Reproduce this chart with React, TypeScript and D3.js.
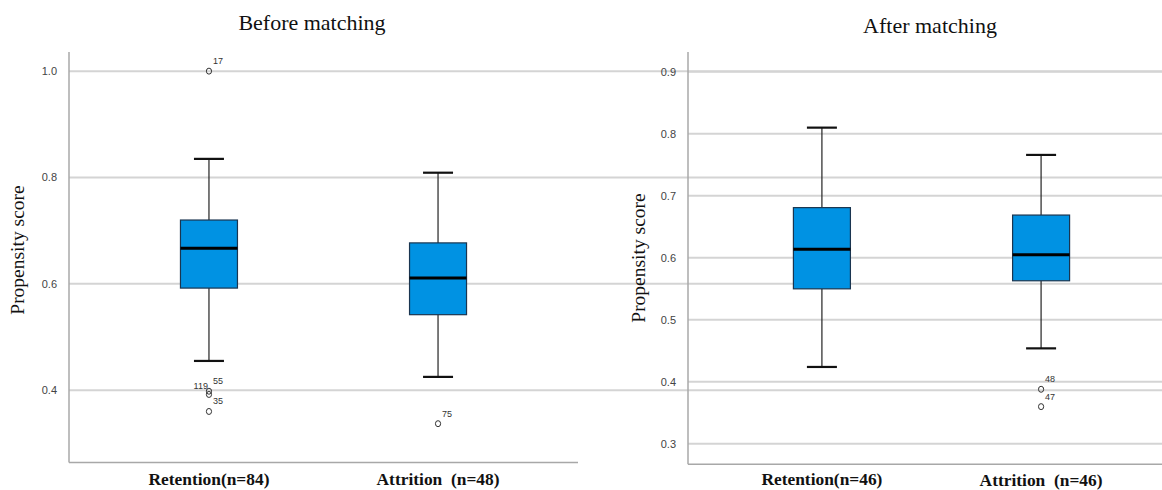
import React from "react";
import * as d3 from "d3";

// ---- Data ----
const beforeTitle = "Before matching";
const afterTitle = "After matching";
const beforeCategories = ["Retention(n=84)", "Attrition  (n=48)"];
const afterCategories = ["Retention(n=46)", "Attrition  (n=46)"];

const beforeLow = [0.455, 0.425];
const beforeQ1 = [0.592, 0.542];
const beforeMedian = [0.667, 0.611];
const beforeQ3 = [0.72, 0.677];
const beforeHigh = [0.835, 0.809];
const beforeOutliers = [
  { cat: 0, value: 1.0, label: "17", side: "right" },
  { cat: 0, value: 0.398, label: "55", side: "right" },
  { cat: 0, value: 0.392, label: "119", side: "left" },
  { cat: 0, value: 0.36, label: "35", side: "right" },
  { cat: 1, value: 0.337, label: "75", side: "right" },
];
const beforeTicks = [0.4, 0.6, 0.8, 1.0];
const beforeDomain = [0.264, 1.036];

const afterLow = [0.424, 0.454];
const afterQ1 = [0.55, 0.563];
const afterMedian = [0.614, 0.605];
const afterQ3 = [0.681, 0.669];
const afterHigh = [0.81, 0.766];
const afterOutliers = [
  { cat: 1, value: 0.388, label: "48", side: "right" },
  { cat: 1, value: 0.36, label: "47", side: "right" },
];
const afterTicks = [0.3, 0.4, 0.5, 0.6, 0.7, 0.8, 0.9];
const afterDomain = [0.267, 0.932];

const yTitle = "Propensity score";

const BOX_FILL = "#0092e3";
const GRID = "#d4d4d4";
const AXIS = "#a8a8a8";

type Outlier = { cat: number; value: number; label: string; side: string };

function Panel(props: {
  title: string;
  titleY: number;
  categories: string[];
  low: number[];
  q1: number[];
  median: number[];
  q3: number[];
  high: number[];
  outliers: Outlier[];
  ticks: number[];
  domain: number[];
  x0: number;
  x1: number;
  yTop: number;
  yBottom: number;
  ytitleX: number;
  ytitleY: number;
  tickFmt: (v: number) => string;
  catLabelY: number[];
  titleX: number;
}) {
  const p = props;
  const x = d3
    .scalePoint<string>()
    .domain(p.categories)
    .range([p.x0, p.x1])
    .padding(0.611);
  const y = d3.scaleLinear().domain(p.domain).range([p.yBottom, p.yTop]);
  const boxW = 57;
  const capW = 30;
  return (
    <g>
      <text
        x={p.titleX}
        y={p.titleY}
        textAnchor="middle"
        fontFamily="'Liberation Serif', serif"
        fontSize={22}
        fill="#111"
      >
        {p.title}
      </text>
      {p.ticks.map((t) => (
        <g key={t}>
          <line
            x1={p.x0}
            x2={1175}
            y1={y(t)}
            y2={y(t)}
            stroke={GRID}
            strokeWidth={2}
          />
          <text
            x={p.x0 - 12}
            y={y(t) + 4}
            textAnchor="end"
            fontFamily="'Liberation Sans', sans-serif"
            fontSize={11}
            fill="#444"
          >
            {p.tickFmt(t)}
          </text>
        </g>
      ))}
      <line
        x1={p.x0}
        x2={p.x0}
        y1={p.yTop}
        y2={p.yBottom}
        stroke={AXIS}
        strokeWidth={1.5}
      />
      <line
        x1={p.x0}
        x2={p.x1 > 1162 ? 1175 : p.x1}
        y1={p.yBottom}
        y2={p.yBottom}
        stroke={AXIS}
        strokeWidth={1.5}
      />
      <text
        transform={`translate(${p.ytitleX},${p.ytitleY}) rotate(-90)`}
        textAnchor="middle"
        fontFamily="'Liberation Serif', serif"
        fontSize={19.5}
        fill="#111"
      >
        {yTitle}
      </text>
      {p.categories.map((c, i) => {
        const cx = x(c) as number;
        return (
          <g key={c}>
            <line
              x1={cx}
              x2={cx}
              y1={y(p.high[i])}
              y2={y(p.q3[i])}
              stroke="#222"
              strokeWidth={1.2}
            />
            <line
              x1={cx}
              x2={cx}
              y1={y(p.q1[i])}
              y2={y(p.low[i])}
              stroke="#222"
              strokeWidth={1.2}
            />
            <line
              x1={cx - capW / 2}
              x2={cx + capW / 2}
              y1={y(p.high[i])}
              y2={y(p.high[i])}
              stroke="#111"
              strokeWidth={2.2}
            />
            <line
              x1={cx - capW / 2}
              x2={cx + capW / 2}
              y1={y(p.low[i])}
              y2={y(p.low[i])}
              stroke="#111"
              strokeWidth={2.2}
            />
            <rect
              x={cx - boxW / 2}
              y={y(p.q3[i])}
              width={boxW}
              height={y(p.q1[i]) - y(p.q3[i])}
              fill={BOX_FILL}
              stroke="#1a3550"
              strokeWidth={1.2}
            />
            <line
              x1={cx - boxW / 2}
              x2={cx + boxW / 2}
              y1={y(p.median[i])}
              y2={y(p.median[i])}
              stroke="#000"
              strokeWidth={3}
            />
            <text
              x={cx}
              y={p.catLabelY[i]}
              textAnchor="middle"
              fontFamily="'Liberation Serif', serif"
              fontWeight="bold"
              fontSize={17.4}
              fill="#111"
              style={{ whiteSpace: "pre" }}
            >
              {c}
            </text>
          </g>
        );
      })}
      {p.outliers.map((o, k) => {
        const cx = x(p.categories[o.cat]) as number;
        const cy = y(o.value);
        return (
          <g key={k}>
            <ellipse
              cx={cx}
              cy={cy}
              rx={2.6}
              ry={3}
              fill="none"
              stroke="#333"
              strokeWidth={1}
            />
            <text
              x={o.side === "left" ? cx - 1 : cx + 4}
              y={o.side === "left" ? cy - 5 : cy - 7}
              textAnchor={o.side === "left" ? "end" : "start"}
              fontFamily="'Liberation Sans Narrow', 'Liberation Sans', sans-serif"
              fontSize={9}
              fill="#333"
            >
              {o.label}
            </text>
          </g>
        );
      })}
    </g>
  );
}

export default function App() {
  const fmt = d3.format(".1f");
  return (
    <svg
      width={1162}
      height={490}
      style={{ position: "absolute", left: 0, top: 0, background: "#fff" }}
    >
      <rect width={1162} height={490} fill="#fff" />
      <Panel
        title={beforeTitle}
        titleX={312}
        titleY={30}
        categories={beforeCategories}
        low={beforeLow}
        q1={beforeQ1}
        median={beforeMedian}
        q3={beforeQ3}
        high={beforeHigh}
        outliers={beforeOutliers}
        ticks={beforeTicks}
        domain={beforeDomain}
        x0={69}
        x1={578}
        yTop={52}
        yBottom={462.5}
        ytitleX={24}
        ytitleY={250}
        tickFmt={fmt}
        catLabelY={[485, 485]}
      />
      <Panel
        title={afterTitle}
        titleX={930}
        titleY={33}
        categories={afterCategories}
        low={afterLow}
        q1={afterQ1}
        median={afterMedian}
        q3={afterQ3}
        high={afterHigh}
        outliers={afterOutliers}
        ticks={afterTicks}
        domain={afterDomain}
        x0={688}
        x1={1175}
        yTop={52}
        yBottom={464.3}
        ytitleX={645}
        ytitleY={258}
        tickFmt={fmt}
        catLabelY={[485, 486]}
      />
    </svg>
  );
}
